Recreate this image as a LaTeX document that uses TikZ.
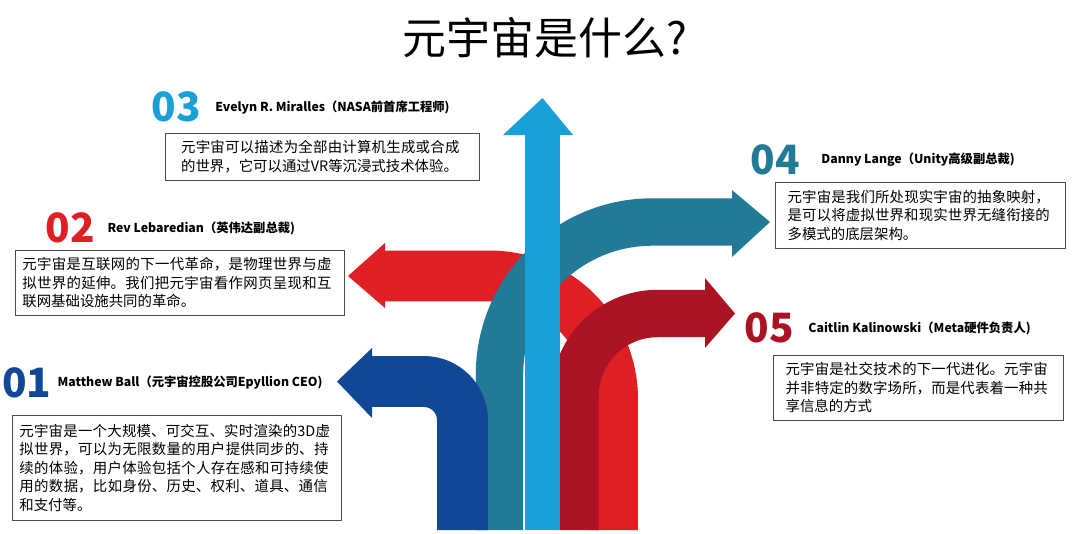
\documentclass[tikz,border=0pt]{standalone}
\usepackage{fontspec}
\setmainfont{Noto Sans CJK SC}
\XeTeXlinebreaklocale "zh"
\XeTeXlinebreakskip = 0pt plus 1pt
\usetikzlibrary{positioning}
\definecolor{cLight}{RGB}{25,160,215}
\definecolor{cTeal}{RGB}{35,122,150}
\definecolor{cRed}{RGB}{222,32,36}
\definecolor{cDarkRed}{RGB}{172,20,36}
\definecolor{cDarkBlue}{RGB}{16,72,150}
\tikzset{
  quotebox/.style = {draw=black!70, thin, anchor=north west, align=left,
    inner sep=4pt, font=\fontsize{8.2}{10.6}\selectfont},
  numlabel/.style = {font=\fontsize{23}{23}\selectfont\bfseries, inner sep=0pt},
  namelabel/.style = {font=\fontsize{7}{8}\selectfont\bfseries, inner sep=0pt,
    anchor=west},
  band/.style = {line width=#1},
}
\begin{document}
\begin{tikzpicture}[x=0.02cm,y=-0.02cm]
\useasboundingbox (0,0) rectangle (1080,534);
% title
\node (title) at (545,38) {\fontsize{25}{25}\selectfont 元宇宙是什么?};
% arrows
\draw[cRed, band=29, rounded corners=70] (612.5,530) -- (612.5,276) -- (385,276);
\fill[cRed] (385,243) -- (385,308) -- (348,276) -- cycle;
\draw[cDarkRed, band=27, rounded corners=47] (575,530) -- (575,313.5) -- (706,313.5);
\fill[cDarkRed] (705,278) -- (705,348) -- (735,313.5) -- cycle;
\draw[cTeal, band=27, rounded corners=87] (499.5,530) -- (499.5,222) -- (733,222);
\fill[cTeal] (732,190) -- (732,257) -- (770,222) -- cycle;
\draw[cLight, band=20] (542.5,530) -- (542.5,134);
\fill[cLight] (503,135) -- (573,135) -- (542.5,98) -- cycle;
\draw[cDarkBlue, band=29, rounded corners=22] (462.5,530) -- (462.5,381.5) -- (371,381.5);
\fill[cDarkBlue] (372,348) -- (372,418) -- (337,381.5) -- cycle;
% 03
\node[numlabel, cLight] (n3) at (176,107) {03};
\node[namelabel, right=8pt of n3] (name3) {Evelyn R. Miralles（NASA前首席工程师)};
\node[quotebox, text width=5.65cm, inner xsep=9pt, minimum height=0.94cm] (box3) at (165,133)
  {元宇宙可以描述为全部由计算机生成或合成的世界，它可以通过VR等沉浸式技术体验。};
% 02
\node[numlabel, cRed] (n2) at (70,228) {02};
\node[namelabel, right=7pt of n2] (name2) {Rev Lebaredian（英伟达副总裁)};
\node[quotebox, text width=6.3cm, minimum height=1.26cm] (box2) at (15,250)
  {元宇宙是互联网的下一代革命，是物理世界与虚拟世界的延伸。我们把元宇宙看作网页呈现和互联网基础设施共同的革命。};
% 01
\node[numlabel, cDarkBlue] (n1) at (27,383) {01};
\node[namelabel, right=3pt of n1] (name1) {Matthew Ball（元宇宙控股公司Epyllion CEO)};
\node[quotebox, text width=6.3cm, minimum height=2.1cm] (box1) at (12,415)
  {元宇宙是一个大规模、可交互、实时渲染的3D虚拟世界，可以为无限数量的用户提供同步的、持续的体验，用户体验包括个人存在感和可持续使用的数据，比如身份、历史、权利、道具、通信和支付等。};
% 04
\node[numlabel, cTeal] (n4) at (775,160) {04};
\node[namelabel, right=12pt of n4] (name4) {Danny Lange（Unity高级副总裁)};
\node[quotebox, text width=5.3cm, inner xsep=7pt, minimum height=1.32cm] (box4) at (775,182)
  {元宇宙是我们所处现实宇宙的抽象映射，是可以将虚拟世界和现实世界无缝衔接的多模式的底层架构。};
% 05
\node[numlabel, cDarkRed] (n5) at (769,328) {05};
\node[namelabel, right=8pt of n5] (name5) {Caitlin Kalinowski（Meta硬件负责人)};
\node[quotebox, text width=5.3cm, inner xsep=7pt, minimum height=1.26cm] (box5) at (773,355)
  {元宇宙是社交技术的下一代进化。元宇宙并非特定的数字场所，而是代表着一种共享信息的方式};
\end{tikzpicture}
\end{document}
